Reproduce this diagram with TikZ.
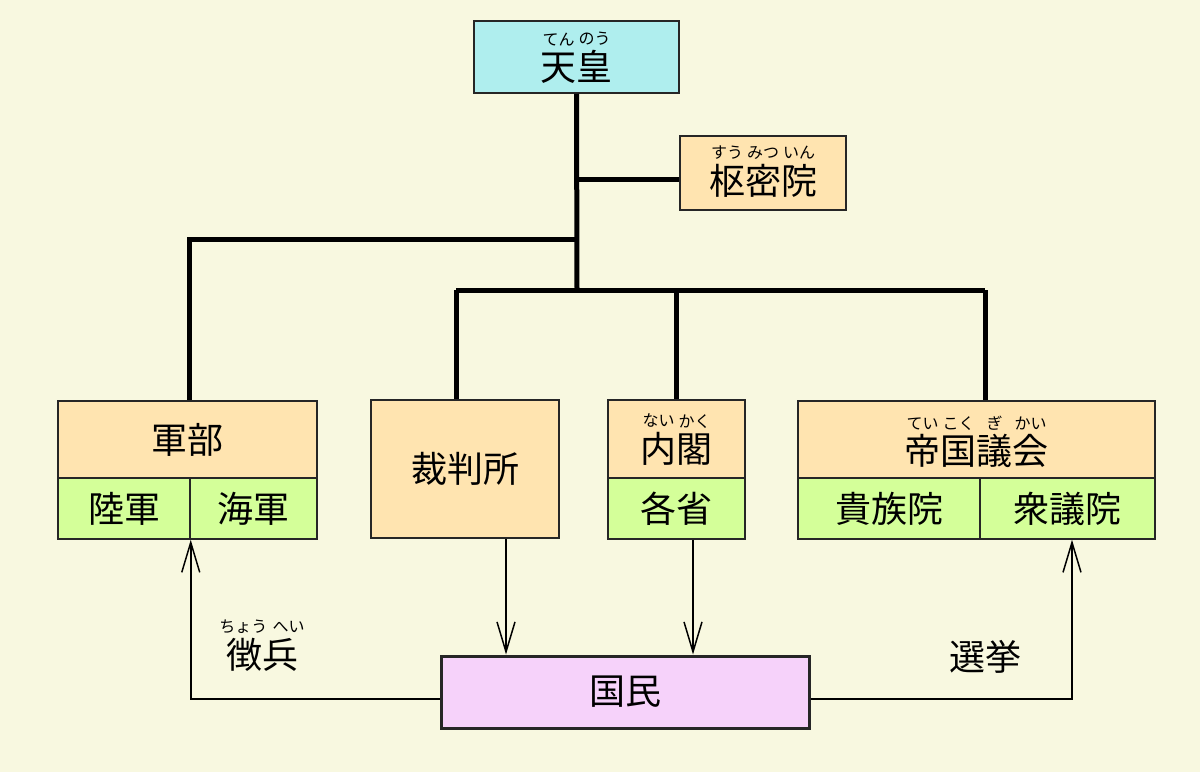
\documentclass[tikz,border=0pt]{standalone}
\usepackage{fontspec}
\setmainfont{Noto Sans CJK JP}
\usepackage{xcolor}
\usetikzlibrary{arrows.meta}

\definecolor{bgyellow}{HTML}{F8F8E0}
\definecolor{emperor}{HTML}{AFEEEE}
\definecolor{organ}{HTML}{FFE4B0}
\definecolor{branch}{HTML}{D4FF99}
\definecolor{people}{HTML}{F6D2FA}

\newcommand{\mainfs}{\fontsize{36}{43}\selectfont}
\newcommand{\rubyfs}{\fontsize{16}{16}\selectfont}
% kanji with its reading on top
\newcommand{\rb}[2]{\begin{tabular}[b]{@{}c@{}}\makebox[1em]{\rubyfs #2}\\[-8pt]#1\end{tabular}}

\begin{document}
\begin{tikzpicture}[x=1pt, y=-1pt,
    orgbox/.style={draw=black!85, line width=1.5pt, inner sep=0pt, font=\mainfs},
    ruby/.style={text height=58pt, text depth=12pt},
    tree/.style={line width=5pt},
    arr/.style={line width=1.5pt, -{Straight Barb[length=30pt, width=18pt]}}]
    \fill[bgyellow] (0,0) rectangle (1200,772);
    \useasboundingbox (0,0) rectangle (1200,772);

    \node[orgbox, ruby, fill=emperor, minimum width=205, minimum height=72] (tenno) at (576.5,57) {\rb{天}{てん}\rb{皇}{のう}};
    \node[orgbox, ruby, text depth=16pt, fill=organ, minimum width=166, minimum height=72] (sumitsu) at (763,173) {\rb{枢}{すう}\rb{密}{みつ}\rb{院}{いん}};

    % 軍部
    \node[orgbox, fill=organ, minimum width=259, minimum height=77] (gunbu) at (187.5,439.5) {軍部};
    \node[orgbox, fill=branch, minimum width=132, minimum height=61] (rikugun) at (124,508.5) {陸軍};
    \node[orgbox, fill=branch, minimum width=127, minimum height=61] (kaigun) at (253.5,508.5) {海軍};

    \node[orgbox, fill=organ, minimum width=188, minimum height=138] (saiban) at (465,469) {裁判所};

    % 内閣
    \node[orgbox, ruby, fill=organ, minimum width=137, minimum height=78] (naikaku) at (676.5,439) {\rb{内}{ない}\rb{閣}{かく}};
    \node[orgbox, fill=branch, minimum width=137, minimum height=61] (kakusho) at (676.5,508.5) {各省};

    % 帝国議会
    \node[orgbox, ruby, text depth=8pt, fill=organ, minimum width=357, minimum height=77] (gikai) at (976.5,439.5) {\rb{帝}{てい}\rb{国}{こく}\rb{議}{ぎ}\rb{会}{かい}};
    \node[orgbox, fill=branch, minimum width=182, minimum height=61] (kizoku) at (889,508.5) {貴族院};
    \node[orgbox, fill=branch, minimum width=175, minimum height=61] (shugi) at (1067.5,508.5) {衆議院};

    \node[orgbox, fill=people, line width=3pt, minimum width=368, minimum height=72] (kokumin) at (625,692) {国民};

    \node[ruby, font=\mainfs, inner sep=0pt] (chohei) at (262,645) {\rb{徴兵}{ちょう\,\,へい}};
    \node[font=\mainfs, inner sep=0pt] (senkyo) at (985,657) {選挙};

    % tree lines
    \coordinate (jsum) at (577,179);
    \coordinate (jarmy) at (577,239);
    \coordinate (jmid) at (577,290);
    \coordinate (jleft) at (456,290);
    \coordinate (jright) at (985,290);
    \draw[tree] (tenno.south) -- (jmid);
    \draw[tree] (jsum) -- (jsum -| sumitsu.west);
    \draw[tree] (jarmy) -| ([xshift=2pt]gunbu.north);
    \draw[tree] (jleft) -- (jright);
    \draw[tree] (jleft) -- (jleft |- saiban.north);
    \draw[tree] (naikaku.north |- jmid) -- (naikaku.north);
    \draw[tree] (jright) -- (jright |- gikai.north);

    % arrows to and from the people
    \draw[arr] ([xshift=41pt]saiban.south) -- ([xshift=41pt]saiban.south |- kokumin.north);
    \draw[arr] ([xshift=16.5pt]kakusho.south) -- ([xshift=16.5pt]kakusho.south |- kokumin.north);
    \draw[arr] ([yshift=-7pt]kokumin.west) -| (rikugun.south east);
    \draw[arr] ([yshift=-7pt]kokumin.east) -| ([xshift=4.5pt]shugi.south);
\end{tikzpicture}
\end{document}
